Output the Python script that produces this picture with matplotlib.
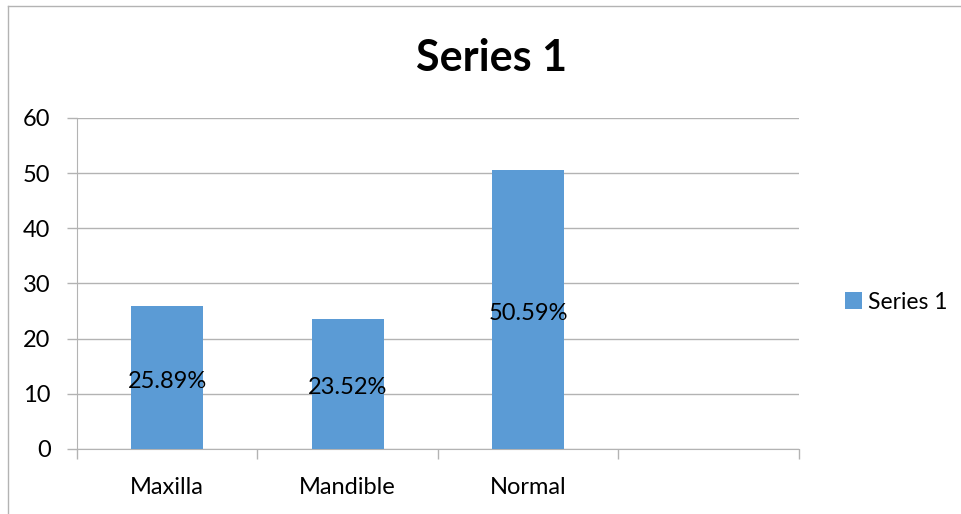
import matplotlib.pyplot as plt
from matplotlib.lines import Line2D
from matplotlib.patches import Patch

# Chart data
categories = ['Maxilla', 'Mandible', 'Normal', '']
values = [25.89, 23.52, 50.59, 0]
labels = ['25.89%', '23.52%', '50.59%', None]
y_ticks = [0, 10, 20, 30, 40, 50, 60]
series_name = 'Series 1'

bar_color = '#5B9BD5'
grid_color = '#B3B3B3'
plt.rcParams['font.family'] = ['Lato', 'DejaVu Sans']

fig = plt.figure(figsize=(9.62, 5.14), dpi=100)
ax = fig.add_axes([0.080, 0.1265, 0.7505, 0.6440])

x = list(range(len(categories)))
bars = ax.bar(x[:3], values[:3], width=0.4, color=bar_color, zorder=3)

# Labels in the middle of each bar
for xi, v, lab in zip(x, values, labels):
    if lab:
        ax.text(xi, v / 2 - 0.7, lab, ha='center', va='center', fontsize=17, color='black', zorder=4)

ax.set_xlim(-0.5, len(categories) - 0.5)
ax.set_ylim(0, 60)
ax.set_yticks(y_ticks)
ax.set_yticklabels([str(t) for t in y_ticks], fontsize=17)
ax.set_xticks(x)
ax.set_xticklabels(categories, fontsize=17)
ax.tick_params(axis='x', length=0, pad=20)
ax.tick_params(axis='y', length=7, color=grid_color, width=1, pad=12)

# Boundary ticks between categories
ax.set_xticks([i - 0.5 for i in range(len(categories) + 1)], minor=True)
ax.tick_params(axis='x', which='minor', length=7, color=grid_color, width=1)

ax.yaxis.grid(True, color=grid_color, linewidth=1, zorder=0)
for s in ['top', 'right']:
    ax.spines[s].set_visible(False)
ax.spines['left'].set_color(grid_color)
ax.spines['bottom'].set_color(grid_color)

fig.text(0.511, 0.887, series_name, ha='center', va='center', fontsize=31, fontweight='bold')

handle = Patch(facecolor=bar_color, label=series_name)
fig.legend(handles=[handle], loc='center left', bbox_to_anchor=(0.857, 0.412), frameon=False,
           fontsize=16.5, handlelength=0.75, handleheight=0.75, handletextpad=0.25)

# Outer chart frame (only top and left edges show)
fig.add_artist(Line2D([8 / 962, 1], [1 - 6 / 514, 1 - 6 / 514], color=grid_color, linewidth=1, transform=fig.transFigure))
fig.add_artist(Line2D([8 / 962, 8 / 962], [0, 1 - 6 / 514], color=grid_color, linewidth=1, transform=fig.transFigure))

fig.savefig('out.png', dpi=100)
